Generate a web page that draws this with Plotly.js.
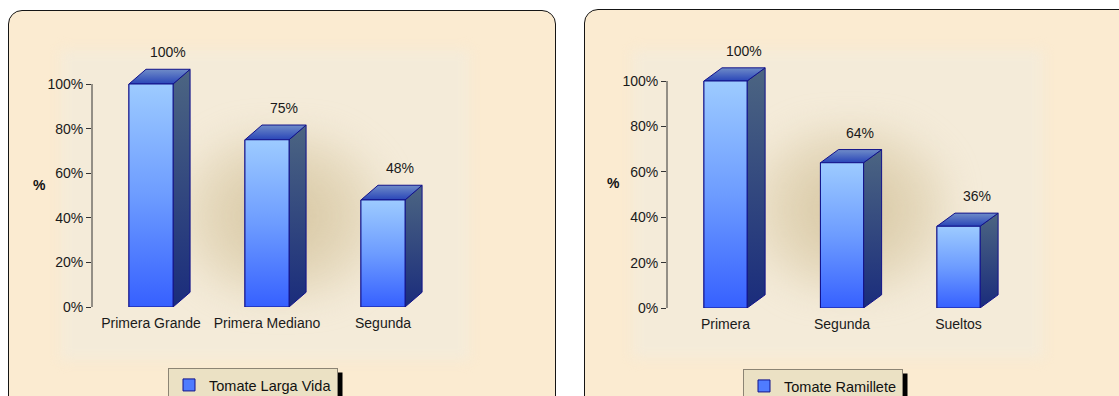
<!DOCTYPE html>
<html>
<head>
<meta charset="utf-8">
<script src="https://cdn.plot.ly/plotly-3.0.1.min.js"></script>
<style>
  html, body { margin:0; padding:0; background:#ffffff; }
  #wrap { position:relative; width:1119px; height:396px; overflow:hidden; background:#ffffff; }
  .panel { position:absolute; background:#fbebd1; border:1.5px solid #151515; border-radius:14px; overflow:hidden; }
  .inner { position:absolute; background:#f4ebd9; filter:blur(6px); }
  .glow { position:absolute; filter:blur(14px);
          background:radial-gradient(ellipse at center, rgba(208,190,150,0.85) 0%, rgba(214,198,160,0.55) 45%, rgba(230,218,190,0) 80%); }
  #chart { position:absolute; left:0; top:0; width:1119px; height:396px; }
</style>
</head>
<body>
<div id="wrap">
  <div class="panel" style="left:8px; top:10px; width:546px; height:400px;">
    <div class="inner" style="left:52px; top:39px; width:408px; height:310px;"></div>
    <div class="glow" style="left:165px; top:115px; width:215px; height:180px;"></div>
  </div>
  <div class="panel" style="left:584px; top:9px; width:560px; height:400px;">
    <div class="inner" style="left:48px; top:40px; width:410px; height:308px;"></div>
    <div class="glow" style="left:160px; top:110px; width:210px; height:180px;"></div>
  </div>
  <div id="chart"></div>
</div>
<script>
// ---------------- data ----------------
const catsLargaVida = ['Primera Grande', 'Primera Mediano', 'Segunda'];
const valsLargaVida = [1.00, 0.75, 0.48];
const nameLargaVida = 'Tomate Larga Vida';

const catsRamillete = ['Primera', 'Segunda', 'Sueltos'];
const valsRamillete = [1.00, 0.64, 0.36];
const nameRamillete = 'Tomate Ramillete';

const yTickVals = [0, 0.2, 0.4, 0.6, 0.8, 1.0];
const yAxisTitle = '%';

// ---------------- style ----------------
const W = 1119, H = 396;
const FONT = 'Arial, "Liberation Sans", sans-serif';
const outline = '#12128a';
const frontScale = [[0, '#3660ff'], [0.5, '#6d9cff'], [1, '#9dcbff']];
const sideScale  = [[0, '#1a2c7c'], [1, '#4c6582']];
const topScale   = [[0, '#2945b8'], [1, '#6f8cc8']];

const traces = [];
const annotations = [];
const shapes = [];

function build(cats, vals, name, ax, legendId, geom) {
  const xa = 'x' + (ax === 1 ? '' : ax);
  const ya = 'y' + (ax === 1 ? '' : ax);
  const w = geom.barW, dx = geom.dx, dy = geom.dy;
  const xs = cats.map((_, i) => i);
  // legend / base bar
  traces.push({
    type: 'bar', x: xs, y: vals, width: w, name: name,
    xaxis: xa, yaxis: ya, legend: legendId, showlegend: true,
    marker: { color: '#4f7cff', line: { color: outline, width: 1 } },
    hoverinfo: 'skip'
  });
  xs.forEach((x, i) => {
    const v = vals[i];
    const L = x - w / 2, R = x + w / 2;
    // side face
    traces.push({
      type: 'scatter', mode: 'lines', xaxis: xa, yaxis: ya, showlegend: false, hoverinfo: 'skip',
      x: [R, R + dx, R + dx, R, R], y: [0, dy, v + dy, v, 0],
      fill: 'toself', fillgradient: { type: 'vertical', colorscale: sideScale },
      line: { color: outline, width: 1 }
    });
    // top face
    traces.push({
      type: 'scatter', mode: 'lines', xaxis: xa, yaxis: ya, showlegend: false, hoverinfo: 'skip',
      x: [L, R, R + dx, L + dx, L], y: [v, v, v + dy, v + dy, v],
      fill: 'toself', fillgradient: { type: 'vertical', colorscale: topScale },
      line: { color: outline, width: 1 }
    });
    // front face
    traces.push({
      type: 'scatter', mode: 'lines', xaxis: xa, yaxis: ya, showlegend: false, hoverinfo: 'skip',
      x: [L, R, R, L, L], y: [0, 0, v, v, 0],
      fill: 'toself', fillgradient: { type: 'vertical', colorscale: frontScale },
      line: { color: outline, width: 1 }
    });
    annotations.push({
      xref: xa, yref: ya, x: x + dx, y: v + dy, yanchor: 'bottom', yshift: 7,
      text: Math.round(v * 100) + '%', showarrow: false,
      font: { family: FONT, size: 14, color: '#1a1a1a' }
    });
  });
  shapes.push({
    type: 'line', xref: xa + ' domain', x0: 0, x1: 0, yref: ya, y0: 0, y1: 1,
    line: { color: '#333333', width: 1 }, layer: 'above'
  });
}

const geomL = { barW: 0.38, dx: 0.147, dy: 0.066 };
const geomR = { barW: 0.37, dx: 0.155, dy: 0.058 };
build(catsLargaVida, valsLargaVida, nameLargaVida, 1, 'legend', geomL);
build(catsRamillete, valsRamillete, nameRamillete, 2, 'legend2', geomR);

function yAxis(y0px, pxPerUnit, top) {
  const topPx = y0px - top * pxPerUnit;
  return {
    domain: [1 - y0px / H, 1 - topPx / H], range: [0, top],
    tickvals: yTickVals, tickformat: '.0%',
    showgrid: false, zeroline: false, showline: false,
    ticks: 'outside', ticklen: 5, tickcolor: '#333333', tickwidth: 1,
    tickfont: { family: FONT, size: 14, color: '#1a1a1a' }, fixedrange: true
  };
}
function xAxis(cats, leftPx, rightPx, c0px, step) {
  return {
    domain: [leftPx / W, rightPx / W],
    range: [(leftPx - c0px) / step, (rightPx - c0px) / step],
    tickvals: cats.map((_, i) => i), ticktext: cats,
    showgrid: false, zeroline: false, showline: false, ticks: '',
    ticklabelstandoff: 6,
    tickfont: { family: FONT, size: 14, color: '#1a1a1a' }, fixedrange: true
  };
}

annotations.push({ xref: 'paper', yref: 'paper', x: 39 / W, y: 1 - 185 / H, xanchor: 'center', yanchor: 'middle',
  text: '<b>' + yAxisTitle + '</b>', showarrow: false, font: { family: FONT, size: 14, color: '#111' } });
annotations.push({ xref: 'paper', yref: 'paper', x: 613 / W, y: 1 - 183 / H, xanchor: 'center', yanchor: 'middle',
  text: '<b>' + yAxisTitle + '</b>', showarrow: false, font: { family: FONT, size: 14, color: '#111' } });

const legendStyle = {
  xanchor: 'left', yanchor: 'top', bgcolor: '#ebe1c4', bordercolor: '#8c8474', borderwidth: 1,
  font: { family: FONT, size: 14.5, color: '#111' }
};

const layout = {
  width: W, height: H, margin: { l: 0, r: 0, t: 0, b: 0, autoexpand: false },
  paper_bgcolor: 'rgba(0,0,0,0)', plot_bgcolor: 'rgba(0,0,0,0)',
  font: { family: FONT, color: '#1a1a1a' },
  barmode: 'overlay', hovermode: false,
  xaxis: xAxis(catsLargaVida, 92, 480, 151, 116),
  yaxis: yAxis(307, 223, 1.25),
  xaxis2: Object.assign(xAxis(catsRamillete, 667, 1060, 725.5, 116.5), { anchor: 'y2' }),
  yaxis2: Object.assign(yAxis(308, 227, 1.25), { anchor: 'x2' }),
  legend: Object.assign({ x: 168 / W, y: 1 - 368 / H }, legendStyle),
  legend2: Object.assign({ x: 743 / W, y: 1 - 369 / H }, legendStyle),
  annotations: annotations, shapes: shapes
};
layout.xaxis.anchor = 'y';
layout.yaxis.anchor = 'x';

Plotly.newPlot('chart', traces, layout, { displayModeBar: false, staticPlot: true }).then(gd => {
  // drop shadow behind each legend box, sized from the rendered legend
  const root = gd.getBoundingClientRect();
  const extra = [];
  gd.querySelectorAll('g.legend > rect.bg, g.legend2 > rect.bg').forEach(r => {
    const b = r.getBoundingClientRect();
    const x0 = b.left - root.left + 5, x1 = b.right - root.left + 5;
    const y0 = b.top - root.top + 4, y1 = b.bottom - root.top + 4;
    extra.push({ type: 'rect', xref: 'paper', yref: 'paper', x0: x0 / W, x1: x1 / W,
      y0: 1 - y1 / H, y1: 1 - y0 / H, fillcolor: '#000', line: { width: 0 }, layer: 'above' });
  });
  return Plotly.relayout(gd, { shapes: shapes.concat(extra) });
});
</script>
</body>
</html>
